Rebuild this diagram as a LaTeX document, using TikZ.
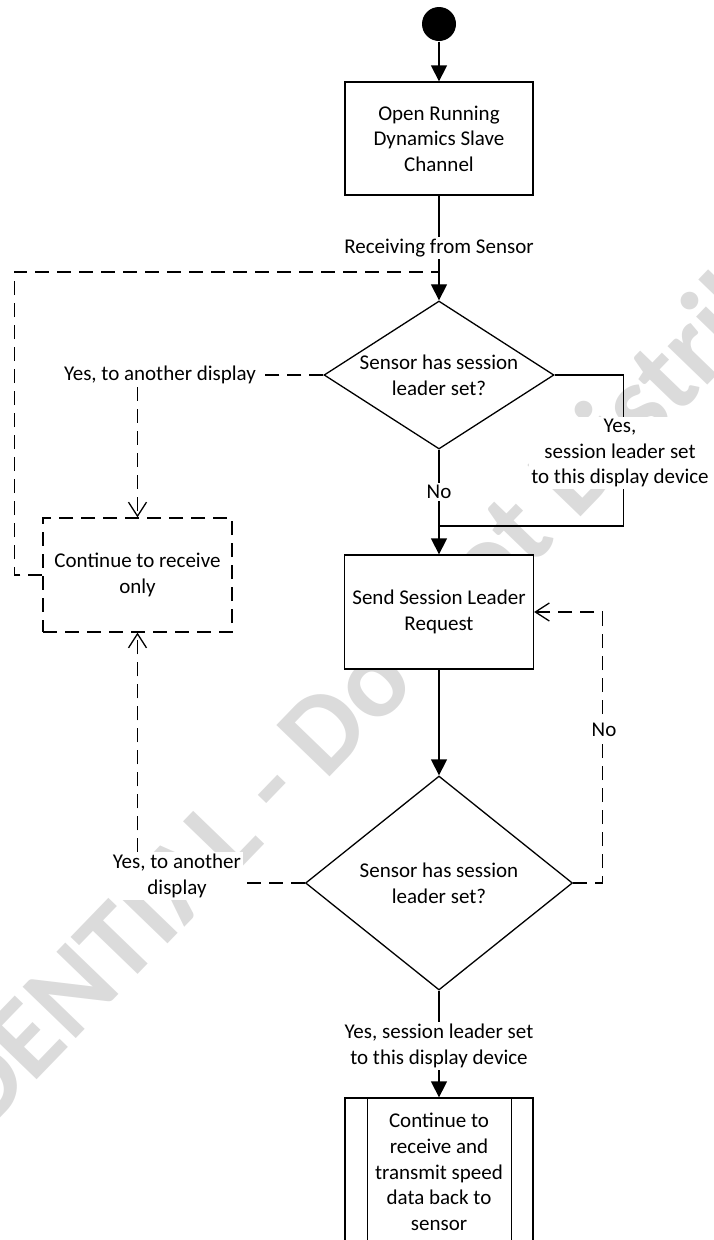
\documentclass[tikz,border=0pt]{standalone}
\usepackage{fontspec}
\setmainfont{Carlito}
\usetikzlibrary{arrows.meta,shapes.geometric}
\begin{document}
\begin{tikzpicture}[x=1pt,y=-1pt,
  line width=1.3pt,
  every node/.style={font=\fontsize{21}{25.6}\selectfont, inner sep=0pt},
  box/.style={draw, fill=white, rectangle, minimum width=188pt, minimum height=113pt, align=center},
  dec/.style={draw, fill=white, diamond, align=center},
  lbl/.style={fill=white, align=center, inner sep=2pt},
  solidarrow/.style={-{Triangle[length=16pt,width=16pt]}},
  dashline/.style={dash pattern=on 14pt off 8pt},
  openarrow/.style={dashline, -{Straight Barb[length=14pt,width=18pt]}},
  watermark/.style={text=black!14, font=\fontsize{114}{114}\selectfont\bfseries, rotate=46},
]
\useasboundingbox (0,0) rectangle (713,1240);
% watermark
\node[watermark] (wm) at (312,738) {CONFIDENTIAL - Do Not Distribute};

% nodes
\node[circle, fill=black, minimum size=34pt] (start) at (439,24) {};
\node[box] (b1) at (439,138.5) {Open Running\\Dynamics Slave\\Channel};
\node[dec, aspect=1.554, minimum width=230pt, minimum height=148pt] (d1) at (439,375) {Sensor has session\\leader set?};
\node[box, minimum width=189pt, minimum height=114pt, dash pattern=on 14pt off 8pt] (cont) at (137.5,575) {Continue to receive\\only};
\node[box, minimum width=189pt, minimum height=114pt] (b2) at (439,612) {Send Session Leader\\Request};
\node[dec, aspect=1.25, minimum width=267pt, minimum height=214pt] (d2) at (439,883) {Sensor has session\\leader set?};
\node[box, minimum height=148pt] (b3) at (439,1172) {Continue to\\receive and\\transmit speed\\data back to\\sensor};
\draw ([xshift=23pt]b3.north west) -- ([xshift=23pt]b3.south west);
\draw ([xshift=-22pt]b3.north east) -- ([xshift=-22pt]b3.south east);

\coordinate (j1) at (439,272);
\coordinate (j2) at (439,526);

% connectors
\draw[solidarrow] (start) -- (b1);
\draw[solidarrow] (b1) -- (d1);
\draw[dashline] (cont.west) -- ++(-28,0) |- (j1);
\draw[openarrow] (d1.west) -| (cont.north);
\draw (d1.east) -- ++(69,0) |- (j2);
\draw[solidarrow] (d1) -- (b2);
\draw[solidarrow] (b2) -- (d2);
\draw[openarrow] (d2.east) -- ++(29,0) |- (b2.east);
\draw[openarrow] (d2.west) -| (cont.south);
\draw[solidarrow] (d2) -- (b3);

% labels
\node[lbl] (l1) at (439,248) {Receiving from Sensor};
\node[lbl] (l2) at (160,375) {Yes, to another display};
\node[lbl] (l3) at (620,453) {Yes,\\session leader set\\to this display device};
\node[lbl] (l4) at (439,492) {No};
\node[lbl] (l5) at (604,730) {No};
\node[lbl] (l6) at (177,876) {Yes, to another\\display};
\node[lbl] (l7) at (439,1046) {Yes, session leader set\\to this display device};
\end{tikzpicture}
\end{document}
